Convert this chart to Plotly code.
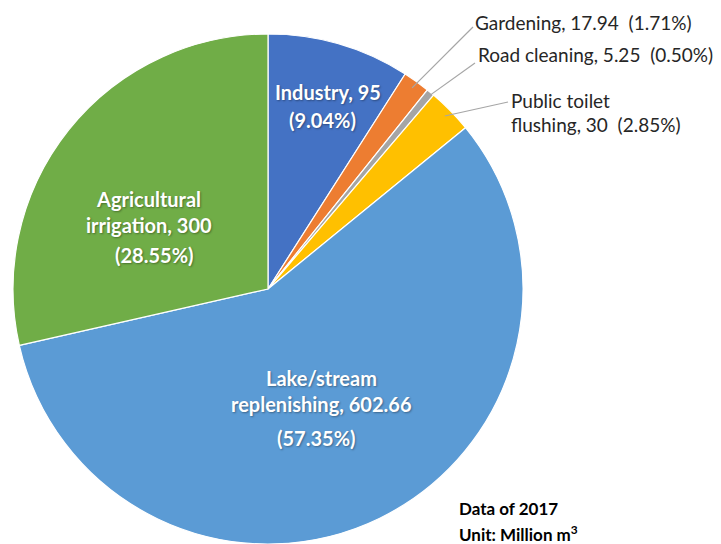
import math
import plotly.graph_objects as go

# Water use breakdown, 2017 (million m3)
categories = ["Industry", "Gardening", "Road cleaning", "Public toilet flushing",
              "Lake/stream replenishing", "Agricultural irrigation"]
values = [95, 17.94, 5.25, 30, 602.66, 300]
colors = ["#4472C4", "#ED7D31", "#A5A5A5", "#FFC000", "#5B9BD5", "#70AD47"]

W, H = 721, 544
total = sum(values)
pct = [v / total * 100 for v in values]

# pie placement in pixels
cx, cy, r = 268, 289, 255
dom_x = [(cx - r) / W, (cx + r) / W]
dom_y = [0, (2 * r) / H]

fig = go.Figure(go.Pie(
    labels=categories, values=values, sort=False, direction="clockwise",
    rotation=0, marker=dict(colors=colors, line=dict(color="white", width=1.2)),
    textinfo="none", hoverinfo="label+value+percent", showlegend=False,
    domain=dict(x=dom_x, y=dom_y),
))

def px(x, y):
    return x / W, 1 - y / H

def fmt(v):
    return f"{v:g}"

FONT = "Lato, Calibri, Carlito, sans-serif"
annotations = []
shapes = []

# labels drawn inside the large slices
inside = {
    0: [(f"Industry, {fmt(values[0])}", 328, 92), (f"({pct[0]:.2f}%)", 322, 120)],
    5: [("Agricultural", 148, 199), (f"irrigation, {fmt(values[5])}", 149, 225),
        (f"({pct[5]:.2f}%)", 154, 255)],
    4: [("Lake/stream", 321, 378), (f"replenishing, {fmt(values[4])}", 321, 404),
        (f"({pct[4]:.2f}%)", 316, 438)],
}
for idx, lines in inside.items():
    for text, x, y in lines:
        xx, yy = px(x, y)
        annotations.append(dict(x=xx, y=yy, xref="paper", yref="paper", text=f"<b>{text}</b>",
                                showarrow=False, xanchor="center", yanchor="middle",
                                font=dict(family=FONT, size=20, color="white",
                                          shadow="1px 1px 2px rgba(0,0,0,0.35)")))

# small slices: leader lines from slice edge to outside label
start = 0.0
mid_angles = []
for v in values:
    frac = v / total
    mid_angles.append((start + frac / 2) * 2 * math.pi)
    start += frac

outside = {
    1: ([f"Gardening, {fmt(values[1])}  ({pct[1]:.2f}%)"], 473, [23], (473, 27)),
    2: ([f"Road cleaning, {fmt(values[2])}  ({pct[2]:.2f}%)"], 476, [55], (475, 63)),
    3: (["Public toilet", f"flushing, {fmt(values[3])}  ({pct[3]:.2f}%)"], 509, [100, 125],
        (508, 102)),
}
for idx, (lines, tx, tys, (lx, ly)) in outside.items():
    a = mid_angles[idx]
    ex = cx + r * 0.97 * math.sin(a)
    ey = cy - r * 0.97 * math.cos(a)
    x0, y0 = px(ex, ey)
    x1, y1 = px(lx, ly)
    shapes.append(dict(type="line", xref="paper", yref="paper", x0=x0, y0=y0, x1=x1, y1=y1,
                       line=dict(color="#A6A6A6", width=1.2)))
    for text, ty in zip(lines, tys):
        xx, yy = px(tx, ty)
        annotations.append(dict(x=xx, y=yy, xref="paper", yref="paper", text=text,
                                showarrow=False, xanchor="left", yanchor="middle",
                                font=dict(family=FONT, size=19, color="#262626")))

# data note
for text, y in [("Data of 2017", 508), ("Unit: Million m<sup>3</sup>", 533)]:
    xx, yy = px(457, y)
    annotations.append(dict(x=xx, y=yy, xref="paper", yref="paper", text=f"<b>{text}</b>",
                            showarrow=False, xanchor="left", yanchor="middle",
                            font=dict(family=FONT, size=17, color="black")))

fig.update_layout(
    width=W, height=H, margin=dict(l=0, r=0, t=0, b=0),
    paper_bgcolor="white", plot_bgcolor="white",
    annotations=annotations, shapes=shapes,
)

fig.write_html("out.html")
